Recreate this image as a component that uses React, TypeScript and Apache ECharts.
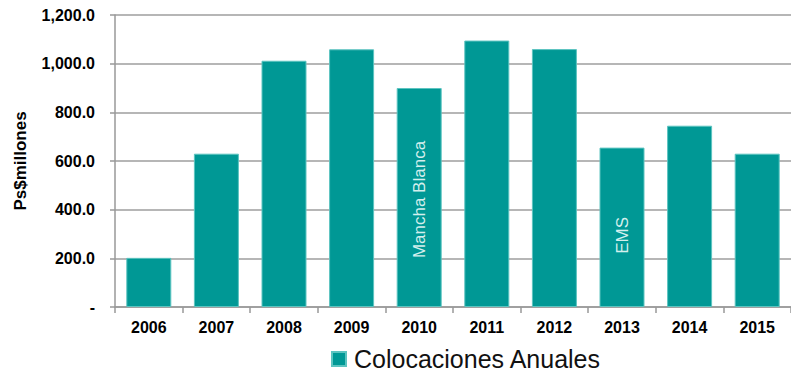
import React, { useEffect, useRef } from "react";
import * as echarts from "echarts";

const years = ["2006", "2007", "2008", "2009", "2010", "2011", "2012", "2013", "2014", "2015"];
const colocaciones = [202, 630, 1012, 1059, 900, 1095, 1060, 655, 745, 630];
const barNotes = ["", "", "", "", "Mancha Blanca", "", "", "EMS", "", ""];
const seriesName = "Colocaciones Anuales";
const yAxisTitle = "Ps$millones";

const FONT = "'Liberation Sans', Arial, sans-serif";

export default function App() {
  const ref = useRef<HTMLDivElement>(null);
  useEffect(() => {
    if (!ref.current) return;
    const chart = echarts.init(ref.current, undefined, { renderer: "svg" });
    const data = colocaciones.map((v, i) => {
      const note = barNotes[i];
      if (!note) return v;
      return {
        value: v,
        label: {
          show: true,
          formatter: note,
          position: "inside",
          rotate: 90,
          offset: i === 7 ? [-8, 0] : [-2, 0],
          color: "#d4efed",
          fontSize: 17,
          fontFamily: FONT,
        },
      };
    });
    chart.setOption({
      animation: false,
      textStyle: { fontFamily: FONT },
      grid: { left: 115, right: -6.5, top: 15, bottom: 66 },
      legend: {
        data: [seriesName],
        left: 326,
        top: 343,
        padding: [3, 5, 3, 5],
        icon: "rect",
        itemWidth: 14,
        itemHeight: 14,
        itemGap: 8,
        textStyle: { fontSize: 25, lineHeight: 26, color: "#111", fontFamily: FONT, padding: [0, 0, 0, 3] },
      },
      xAxis: {
        type: "category",
        data: years,
        axisLine: { lineStyle: { color: "#999", width: 1.5 } },
        axisTick: { show: true, length: 6, lineStyle: { color: "#999", width: 1.5 } },
        axisLabel: { color: "#000", fontWeight: "bold", fontSize: 16, margin: 12, fontFamily: FONT },
      },
      yAxis: {
        type: "value",
        min: 0,
        max: 1200,
        interval: 200,
        name: yAxisTitle,
        nameLocation: "middle",
        nameRotate: 90,
        nameGap: 86,
        nameTextStyle: { color: "#000", fontWeight: "bold", fontSize: 17, fontFamily: FONT },
        axisLine: { show: true, lineStyle: { color: "#999", width: 1.5 } },
        axisTick: { show: true, length: 5, lineStyle: { color: "#999", width: 1.5 } },
        splitLine: { show: true, lineStyle: { color: "#9e9e9e", width: 1.5 } },
        axisLabel: {
          color: "#000",
          fontWeight: "bold",
          fontSize: 16,
          margin: 20,
          fontFamily: FONT,
          formatter: (v: number) =>
            v === 0
              ? "-"
              : v.toLocaleString("en-US", { minimumFractionDigits: 1, maximumFractionDigits: 1 }),
        },
      },
      series: [
        {
          name: seriesName,
          type: "bar",
          data,
          barWidth: 45,
          itemStyle: { color: "#009895", borderColor: "#5cc4c0", borderWidth: 1 },
        },
      ],
    });
    return () => chart.dispose();
  }, []);
  return (
    <div
      ref={ref}
      style={{ position: "fixed", left: 0, top: 0, width: 791, height: 373, background: "#fff" }}
    />
  );
}
